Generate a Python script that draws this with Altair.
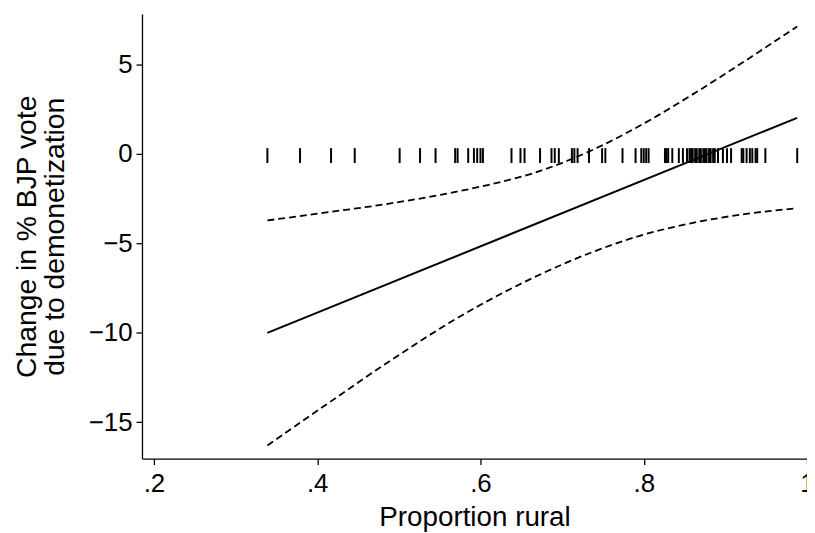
import altair as alt
import pandas as pd

# Fitted marginal effect line (endpoints)
fit_x = [0.339, 0.988]
fit_y = [-10.01, 2.00]

# Upper 95% CI (dashed)
upper_x = [0.339, 0.409, 0.490, 0.551, 0.612, 0.664, 0.697, 0.737, 0.778, 0.818, 0.859, 0.899, 0.940, 0.988]
upper_y = [-3.73, -3.30, -2.78, -2.30, -1.72, -1.10, -0.57, 0.20, 1.13, 2.15, 3.28, 4.43, 5.65, 7.10]

# Lower 95% CI (dashed)
lower_x = [0.339, 0.409, 0.490, 0.571, 0.666, 0.737, 0.798, 0.859, 0.920, 0.988]
lower_y = [-16.30, -14.08, -11.55, -9.20, -6.90, -5.50, -4.55, -3.88, -3.40, -3.05]

# Rug of observed "Proportion rural" values
rug_x = [0.339, 0.379, 0.417, 0.446, 0.501, 0.526, 0.545, 0.569, 0.572, 0.585,
         0.592, 0.596, 0.600, 0.603, 0.638, 0.649, 0.654, 0.673, 0.687, 0.691,
         0.696, 0.712, 0.715, 0.719, 0.733, 0.749, 0.753, 0.774, 0.790, 0.797,
         0.800, 0.803, 0.806, 0.826, 0.828, 0.830, 0.835, 0.843, 0.848, 0.853,
         0.856, 0.858, 0.860, 0.863, 0.865, 0.868, 0.870, 0.873, 0.875, 0.877,
         0.880, 0.882, 0.885, 0.887, 0.891, 0.897, 0.902, 0.907, 0.920, 0.922,
         0.926, 0.930, 0.933, 0.937, 0.939, 0.949, 0.988]

x_ticks = [0.2, 0.4, 0.6, 0.8, 1.0]
y_ticks = [-15, -10, -5, 0, 5]

FONT = "Liberation Sans"

fit_df = pd.DataFrame({"x": fit_x, "y": fit_y})
up_df = pd.DataFrame({"x": upper_x, "y": upper_y})
lo_df = pd.DataFrame({"x": lower_x, "y": lower_y})
rug_df = pd.DataFrame({"x": rug_x, "y": [0] * len(rug_x)})

xscale = alt.Scale(domain=[0.1854, 1.0], nice=False, zero=False)
yscale = alt.Scale(domain=[-17.03, 7.8], nice=False, zero=False)

xenc = alt.X("x:Q", scale=xscale, axis=alt.Axis(
    title="Proportion rural", values=x_ticks,
    labelExpr="datum.value == 1 ? '1' : replace(format(datum.value, '.1f'), '0.', '.')",
    grid=False, domainColor="black", domainWidth=1.3, tickColor="black", tickWidth=1.3,
    tickSize=6, labelFont=FONT, labelFontSize=26, labelColor="black", labelPadding=6,
    titleFont=FONT, titleFontSize=28, titleFontWeight="normal", titleColor="black",
    titlePadding=7, labelFlush=False))
yenc = alt.Y("y:Q", scale=yscale, axis=alt.Axis(
    title=["Change in % BJP vote", "due to demonetization"], values=y_ticks,
    grid=False, domainColor="black", domainWidth=1.3, tickColor="black", tickWidth=1.3,
    tickSize=6, labelFont=FONT, labelFontSize=26, labelColor="black", labelPadding=4,
    titleFont=FONT, titleFontSize=28.5, titleFontWeight="normal", titleColor="black",
    titlePadding=19, titleLineHeight=28, labelFlush=False))

fit = alt.Chart(fit_df).mark_line(color="black", strokeWidth=2).encode(x=xenc, y=yenc)
up = alt.Chart(up_df).mark_line(color="black", strokeWidth=1.8, strokeDash=[7, 4],
                                interpolate="monotone").encode(x="x:Q", y="y:Q")
lo = alt.Chart(lo_df).mark_line(color="black", strokeWidth=1.8, strokeDash=[7, 4],
                                interpolate="monotone").encode(x="x:Q", y="y:Q")
rug = alt.Chart(rug_df).mark_tick(color="black", orient="vertical", size=15, thickness=2,
                                  yOffset=2, opacity=1).encode(x="x:Q", y="y:Q")

chart = alt.layer(fit, up, lo, rug).properties(
    width=670, height=448,
    background="white",
    autosize=alt.AutoSizeParams(type="none"),
    padding={"left": 135, "top": 4, "right": 0, "bottom": 73},
).configure_view(strokeWidth=0, stroke="transparent")

chart.save("out.html", embed_options={"renderer": "svg", "actions": False})
